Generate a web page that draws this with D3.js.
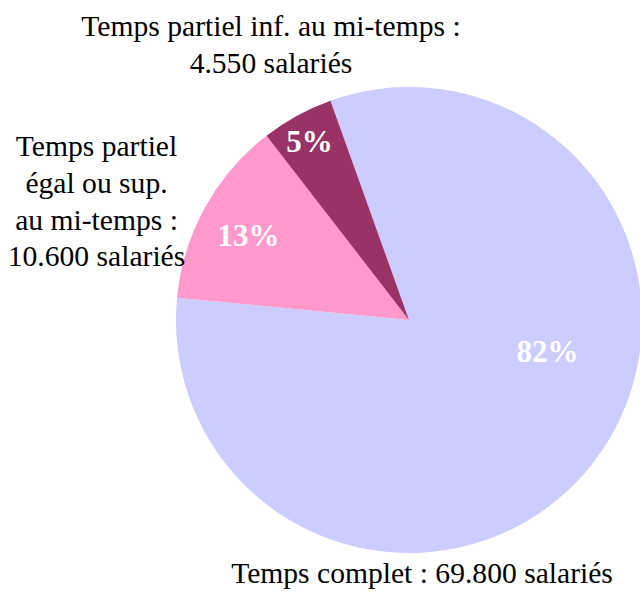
<!DOCTYPE html>
<html>
<head>
<meta charset="UTF-8">
<script src="https://cdn.jsdelivr.net/npm/d3@7"></script>
<style>
    body { margin: 0; background: white; }
    svg text { font-family: "Liberation Serif", "Times New Roman", serif; }
</style>
</head>
<body>
<div id="chart"></div>
<script>
    // part of employees by working time (percent shown on slices)
    const categories = ["Temps complet", "Temps partiel égal ou sup. au mi-temps", "Temps partiel inf. au mi-temps"];
    const shares = [82, 13, 5];
    const counts = ["69.800", "10.600", "4.550"];
    const colors = ["#ccccff", "#ff99cc", "#993366"];

    const w = 640, h = 592;
    const cx = 409, cy = 320, r = 233;
    const start = -19.7 * Math.PI / 180;

    const svg = d3.select("#chart").append("svg")
        .attr("width", w)
        .attr("height", h)
        .attr("font-family", "Liberation Serif, Times New Roman, serif");

    const pie = d3.pie().sort(null).startAngle(start).endAngle(start + 2 * Math.PI);
    const arcs = pie(shares);
    const arc = d3.arc().innerRadius(0).outerRadius(r);

    const g = svg.append("g").attr("transform", `translate(${cx},${cy})`);

    g.selectAll("path")
        .data(arcs)
        .enter()
        .append("path")
        .attr("d", arc)
        .attr("fill", (d, i) => colors[i]);

    // where inside each slice the percent sits: [fraction of the sweep, fraction of radius]
    const place = [[0.415, 0.61], [0.48, 0.78], [0.48, 0.88]];
    g.selectAll("text.pct")
        .data(arcs)
        .enter()
        .append("text")
        .attr("class", "pct")
        .attr("x", (d, i) => Math.sin(d.startAngle + place[i][0] * (d.endAngle - d.startAngle)) * r * place[i][1])
        .attr("y", (d, i) => -Math.cos(d.startAngle + place[i][0] * (d.endAngle - d.startAngle)) * r * place[i][1])
        .attr("dy", "0.35em")
        .attr("text-anchor", "middle")
        .attr("fill", "white")
        .attr("font-weight", "bold")
        .attr("font-size", "31px")
        .text(d => d.data + "%");

    // outside category labels
    const labels = [
        { x: 422, y: 583, lines: ["Temps complet : " + counts[0] + " salariés"] },
        { x: 96.5, y: 156, lines: ["Temps partiel", "égal ou sup.", "au mi-temps :", counts[1] + " salariés"] },
        { x: 271, y: 36, lines: ["Temps partiel inf. au mi-temps :", counts[2] + " salariés"] }
    ];
    labels.forEach(l => {
        const t = svg.append("text")
            .attr("x", l.x)
            .attr("y", l.y)
            .attr("text-anchor", "middle")
            .attr("font-size", "29.6px")
            .attr("fill", "black");
        l.lines.forEach((s, j) => {
            t.append("tspan")
                .attr("x", l.x)
                .attr("y", l.y + j * 36.8)
                .text(s);
        });
    });
</script>
</body>
</html>
